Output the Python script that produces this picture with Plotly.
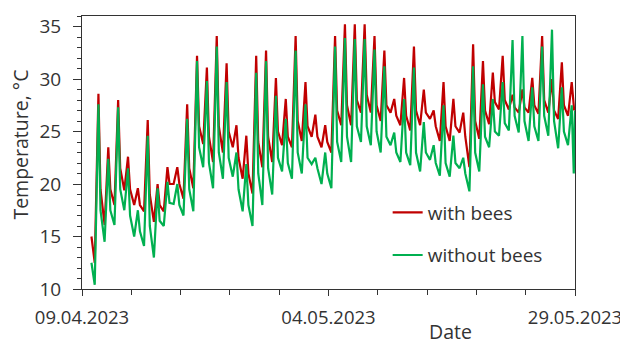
import plotly.graph_objects as go
import pandas as pd

# Daily readings (day 1 = 10.04.2023 ... day 49 = 28.05.2023)
day_labels = pd.date_range("2023-04-10", periods=49, freq="D")

# morning minimum, afternoon maximum, evening reading for each day
red_min = [12.5, 16.1, 18.0, 19.4, 18.0, 17.4, 16.4, 17.4, 20.0, 18.6,
           19.6, 23.8, 22.1, 23.0, 23.5, 20.5, 19.1, 21.6, 22.1, 23.7,
           23.5, 24.1, 24.5, 23.5, 23.0, 25.6, 25.6, 26.8, 26.8, 26.0,
           26.8, 25.6, 25.1, 25.6, 26.2, 24.1, 24.1, 24.9, 21.6, 24.3,
           25.7, 27.1, 27.1, 26.8, 26.8, 26.7, 26.8, 26.2, 26.5]
red_max = [28.6, 23.5, 28.0, 22.6, 19.6, 26.1, 20.0, 21.6, 21.6, 27.6,
           32.2, 31.1, 34.1, 31.5, 25.6, 24.6, 32.2, 32.7, 30.1, 28.1,
           34.1, 29.7, 26.6, 25.6, 34.1, 35.2, 35.2, 35.2, 34.1, 32.7,
           28.1, 30.1, 33.1, 29.0, 27.0, 29.7, 28.1, 26.8, 33.3, 31.7,
           30.6, 32.2, 28.5, 29.0, 30.1, 34.1, 30.0, 31.6, 29.7]
red_eve = [19.5, 19.5, 21.5, 19.5, 18.0, 19.0, 18.0, 20.0, 20.0, 21.5,
           25.5, 24.5, 25.5, 25.0, 22.5, 21.0, 24.0, 24.5, 25.0, 24.5,
           26.0, 25.5, 24.5, 24.0, 27.0, 27.5, 28.0, 28.5, 27.5, 27.5,
           26.5, 26.5, 27.0, 26.8, 25.5, 25.5, 25.5, 24.5, 26.0, 27.0,
           27.8, 28.0, 27.3, 27.3, 27.5, 28.0, 27.0, 27.5, 27.5]
green_min = [10.4, 14.5, 16.1, 17.5, 15.0, 14.1, 13.0, 16.0, 18.1, 17.0,
             17.4, 21.6, 19.6, 20.5, 20.7, 17.4, 16.0, 18.0, 19.0, 21.2,
             20.5, 21.0, 21.9, 20.0, 19.6, 22.1, 22.1, 24.0, 23.7, 23.0,
             23.7, 22.1, 21.8, 21.2, 22.3, 20.8, 20.7, 21.5, 19.3, 21.2,
             23.5, 24.6, 25.1, 24.9, 24.1, 24.1, 24.6, 23.4, 23.7]
green_max = [27.6, 22.4, 27.3, 21.5, 17.5, 24.6, 19.6, 20.2, 20.0, 26.2,
             31.7, 29.8, 33.1, 29.7, 23.0, 21.9, 30.6, 31.7, 28.4, 26.2,
             32.7, 27.6, 22.5, 23.0, 33.1, 33.9, 33.8, 33.8, 32.8, 31.2,
             24.9, 28.1, 31.1, 25.9, 23.7, 27.5, 24.6, 22.5, 31.2, 29.5,
             28.1, 29.7, 33.7, 34.1, 29.2, 33.1, 34.7, 29.2, 27.5]
green_eve = [17.5, 17.5, 19.5, 17.0, 15.5, 16.0, 16.5, 18.2, 18.0, 19.5,
             23.5, 22.0, 23.0, 22.5, 19.5, 18.0, 21.0, 21.5, 22.5, 22.0,
             23.0, 22.5, 21.5, 21.0, 24.0, 24.5, 25.5, 25.5, 25.0, 24.5,
             23.0, 23.0, 23.0, 23.0, 22.0, 22.0, 22.0, 21.0, 23.0, 24.5,
             25.0, 25.8, 26.5, 26.0, 25.5, 26.5, 26.0, 25.0, 21.0]

# first and last readings
red_start, green_start = 15.0, 12.5
red_end = [27.0]
green_end = [27.0]

x_ticks = ["2023-04-09", "2023-05-04", "2023-05-29"]
x_ticktext = ["09.04.2023", "04.05.2023", "29.05.2023"]
y_ticks = [10, 15, 20, 25, 30, 35]


def build(first, mins, maxs, eves, tail_times, tail_vals):
    t = [pd.Timestamp("2023-04-09 23:00")]
    v = [first]
    for d, lo, hi, ev in zip(day_labels, mins, maxs, eves):
        t += [d + pd.Timedelta(hours=7), d + pd.Timedelta(hours=16),
              d + pd.Timedelta(hours=21)]
        v += [lo, hi, ev]
    t += [pd.Timestamp(s) for s in tail_times]
    v += tail_vals
    return t, v


rx, ry = build(red_start, red_min, red_max, red_eve,
               ["2023-05-28 22:00"], red_end)
gx, gy = build(green_start, green_min, green_max, green_eve,
               ["2023-05-28 23:59"], green_end)

FONT = "Open Sans"
TXT = "#333333"

fig = go.Figure()
fig.add_trace(go.Scatter(x=rx, y=ry, mode="lines", name="with bees",
                         legendgroup="a",
                         line=dict(color="#C00000", width=2.2)))
fig.add_trace(go.Scatter(x=gx, y=gy, mode="lines", name="without bees",
                         legendgroup="b",
                         line=dict(color="#00B050", width=2.2)))

fig.update_layout(
    width=628, height=344, autosize=False,
    margin=dict(l=74, r=61, t=5, b=63),
    paper_bgcolor="white", plot_bgcolor="white",
    font=dict(family=FONT, size=19, color=TXT),
    legend=dict(x=0.62, y=0.35, xanchor="left", yanchor="top",
                bgcolor="rgba(0,0,0,0)", itemwidth=30,
                tracegroupgap=15, traceorder="grouped",
                font=dict(family=FONT, size=19, color=TXT)),
    showlegend=True,
)

fig.update_xaxes(
    type="date", range=["2023-04-09", "2023-05-29"],
    tickmode="array", tickvals=x_ticks, ticktext=x_ticktext,
    ticks="outside", ticklen=6, tickwidth=1, tickcolor="#333333",
    ticklabelstandoff=6,
    showline=True, linecolor="#333333", linewidth=1, mirror=True,
    showgrid=False, zeroline=False,
    minor=dict(dtick=5 * 86400000, tick0="2023-04-09", ticks="outside",
               ticklen=5, tickcolor="#333333", showgrid=False),
    tickfont=dict(family=FONT, size=18.5, color=TXT),
)
fig.update_yaxes(
    range=[10, 36], tickmode="array", tickvals=y_ticks,
    ticks="outside", ticklen=8, tickwidth=1, tickcolor="#333333",
    ticklabelstandoff=8,
    showline=True, linecolor="#333333", linewidth=1, mirror=True,
    showgrid=False, zeroline=False,
    minor=dict(dtick=1, ticks="outside", ticklen=4, tickcolor="#333333",
               showgrid=False),
    tickfont=dict(family=FONT, size=19, color=TXT),
)

fig.add_annotation(text="Date", xref="paper", yref="paper",
                   x=(450 - 82) / 493, y=-(332 - 289) / 276,
                   xanchor="center", yanchor="middle", showarrow=False,
                   font=dict(family=FONT, size=19.5, color=TXT))
fig.add_annotation(text="Temperature, °C", xref="paper", yref="paper",
                   x=-(82 - 21) / 493, y=(289 - 143) / 276, textangle=-90,
                   xanchor="center", yanchor="middle", showarrow=False,
                   font=dict(family=FONT, size=19.5, color=TXT))

fig.write_html("out.html")
